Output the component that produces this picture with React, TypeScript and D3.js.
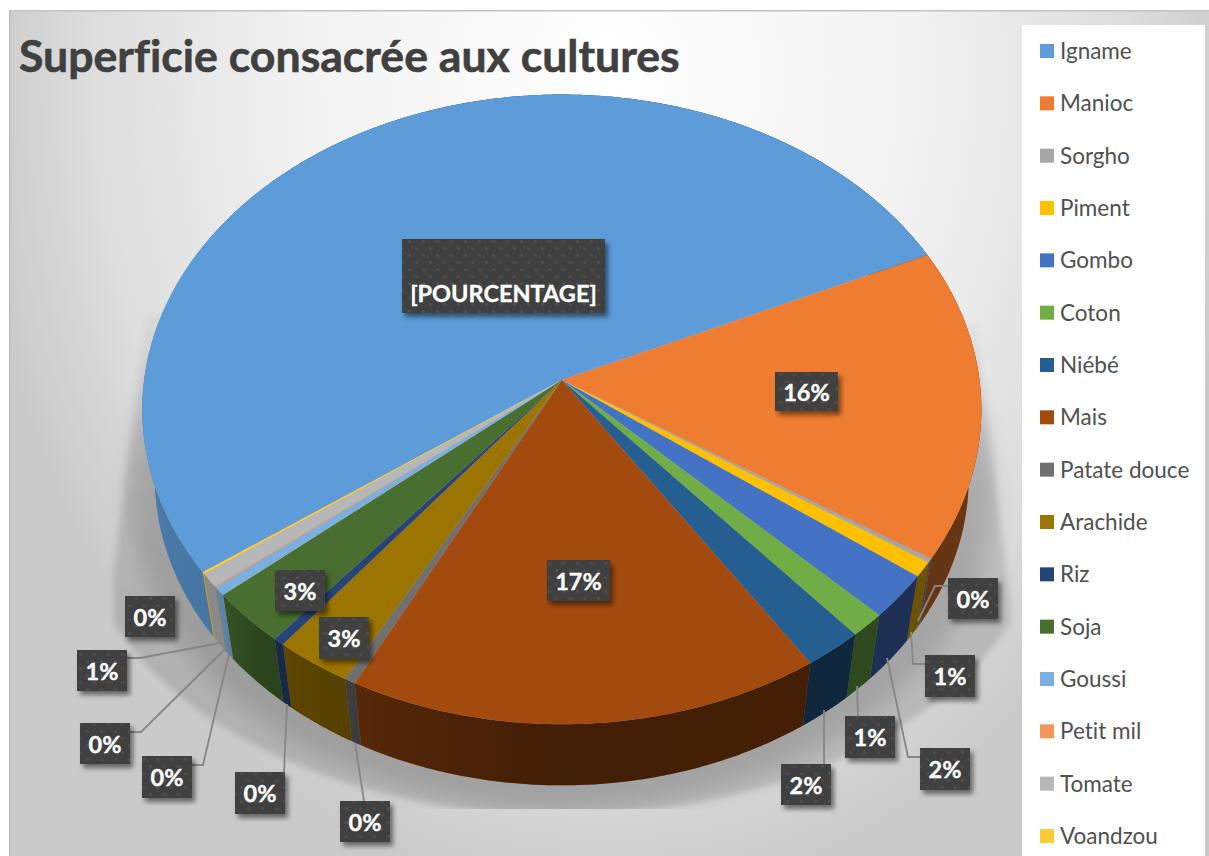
import React from "react";
import * as d3 from "d3";

const categories = ["Igname","Manioc","Sorgho","Piment","Gombo","Coton","Niébé","Mais","Patate douce","Arachide","Riz","Soja","Goussi","Petit mil","Tomate","Voandzou"];
const shares = [53.06,15.97,0.2,0.78,2.3,1.25,2.08,16.75,0.39,2.72,0.39,2.78,0.45,0.05,0.72,0.1];
const colors = ["#5d9cd8","#ef7d31","#a5a5a5","#ffc000","#4472c4","#70ad47","#255e91","#a34b0f","#707070","#9c7500","#264478","#486f30","#7cafdd","#f1975a","#b7b7b7","#ffcd33"];
const title = "Superficie consacrée aux cultures";

// label text, box left, box top, box width, box height, text centre y
const labels: [string, number, number, number, number, number][] = [
  ["[POURCENTAGE]",402,239,203,74,293],
  ["16%",775,372,63,39,392],
  ["17%",547,560,63,41,581],
  ["3%",275,570,50,41,591],
  ["3%",319,617,50,42,638],
  ["0%",125,596,50,41,617],
  ["1%",77,650,50,41,671],
  ["0%",80,723,50,41,744],
  ["0%",142,756,50,42,777],
  ["0%",235,772,50,42,793],
  ["0%",340,801,50,41,822],
  ["0%",948,578,50,41,599],
  ["1%",925,655,50,42,676],
  ["2%",920,748,50,42,769],
  ["1%",845,716,50,42,737],
  ["2%",781,764,50,41,785],
];
const leaders: [number, number][][] = [
  [[127,658],[140,658],[220,643]],
  [[130,732],[141,732],[225,649]],
  [[192,765],[203,765],[229,654]],
  [[284,772],[287,704]],
  [[364,801],[355,743]],
  [[948,586],[935,586],[918,621]],
  [[925,664],[913,664],[911,632]],
  [[920,757],[908,757],[887,658]],
  [[858,716],[857,686]],
  [[824,764],[824,710]],
];

const W = 1209, H = 856;
const cx = 561.8, cy = 380, R = 417.7, S = 312.1, K = 0.0934;
const DEG = Math.PI / 180;

const project = (a: number, sx = 1, sy = 1, dy = 0): [number, number] => {
  const u = Math.sin(a), v = -Math.cos(a), w = 1 - K * v;
  return [cx + sx * R * u / w, cy + sy * S * v / w + dy];
};
const top = (a: number) => project(a);
const bottom = (a: number) => project(a, 0.97, 0.977, 69);
const sample = (a0: number, a1: number) => [...d3.range(a0, a1, 0.4 * DEG), a1];

const line = d3.line();
const startA = -125.6 * DEG;
const slices = d3.pie<number>().sort(null).startAngle(startA).endAngle(startA + 2 * Math.PI)(shares);

const topPath = (s: d3.PieArcDatum<number>) =>
  line([[cx, cy], ...sample(s.startAngle, s.endAngle).map(top)]) + "Z";
const wallPath = (s: d3.PieArcDatum<number>) => {
  const as = sample(s.startAngle, s.endAngle);
  return line([...as.map(top), ...[...as].reverse().map(bottom)]) + "Z";
};
const castPath = () => {
  const arc = sample(118 * DEG, 242 * DEG).map((a) => project(a, 1.16, 1, 91));
  return line([[976, 325], [1010, 600], ...arc, [113, 575], [146, 315]]) + "Z";
};
const nearPath = () => line(sample(0, 2 * Math.PI).map((a) => project(a, 1.03, 1, 84))) + "Z";

const legendY = d3.scalePoint<string>().domain(categories).range([51, 836]);
const font = "Lato, 'Open Sans', sans-serif";

export default function App() {
  return (
    <svg width={W} height={H} viewBox={`0 0 ${W} ${H}`} style={{ position: "absolute", left: 0, top: 0, display: "block", background: "#fff" }}>
      <defs>
        <radialGradient id="bg" gradientUnits="userSpaceOnUse" cx={0} cy={0} r={1} gradientTransform="translate(610 80) scale(640 820)">
          <stop offset="0" stopColor="#ffffff" />
          <stop offset="0.5" stopColor="#f1f1f1" />
          <stop offset="0.8" stopColor="#dedede" />
          <stop offset="1" stopColor="#cacaca" />
        </radialGradient>
        <linearGradient id="shadowFill" gradientUnits="userSpaceOnUse" x1={0} x2={0} y1={310} y2={640}>
          <stop offset="0" stopColor="#000" stopOpacity={0.03} />
          <stop offset="0.5" stopColor="#000" stopOpacity={0.11} />
          <stop offset="1" stopColor="#000" stopOpacity={0.13} />
        </linearGradient>
        <linearGradient id="wallShade" gradientUnits="userSpaceOnUse" x1={142} x2={981} y1={0} y2={0}>
          <stop offset="0" stopColor="#000" stopOpacity={0.22} />
          <stop offset="0.099" stopColor="#000" stopOpacity={0.25} />
          <stop offset="0.14" stopColor="#000" stopOpacity={0.38} />
          <stop offset="0.307" stopColor="#000" stopOpacity={0.5} />
          <stop offset="0.5" stopColor="#000" stopOpacity={0.6} />
          <stop offset="1" stopColor="#000" stopOpacity={0.57} />
        </linearGradient>
        <filter id="soft" x="-10%" y="-10%" width="120%" height="120%">
          <feGaussianBlur stdDeviation="3" />
        </filter>
        <filter id="softer" x="-10%" y="-10%" width="120%" height="120%">
          <feGaussianBlur stdDeviation="11" />
        </filter>
        <filter id="boxShadow" x="-20%" y="-20%" width="150%" height="160%">
          <feDropShadow dx="3" dy="4" stdDeviation="2.5" floodColor="#000" floodOpacity="0.5" />
        </filter>
        <pattern id="dots" patternUnits="userSpaceOnUse" width={14} height={14}>
          <rect width={14} height={14} fill="#404040" />
          <circle cx={3.5} cy={3.5} r={1.6} fill="#4f4f4f" />
          <circle cx={10.5} cy={10.5} r={1.6} fill="#4f4f4f" />
        </pattern>
        <clipPath id="shadowClip"><rect x={0} y={0} width={W} height={809} /></clipPath>
      </defs>

      <rect x={9} y={10} width={W - 9} height={H - 10} fill="url(#bg)" />
      <rect x={9} y={10} width={W - 9} height={1.5} fill="#c2c2c2" />
      <rect x={9} y={10} width={1.5} height={H - 10} fill="#bcbcbc" />

      <g clipPath="url(#shadowClip)">
        <path d={castPath()} fill="url(#shadowFill)" filter="url(#soft)" />
        <path d={nearPath()} fill="#000" fillOpacity={0.14} filter="url(#softer)" />
      </g>

      <rect x={1022} y={25} width={183} height={H - 25} fill="#fff" />
      {categories.map((c, i) => (
        <g key={c}>
          <rect x={1040} y={legendY(c)! - 7} width={14} height={14} fill={colors[i]} />
          <text x={1060} y={legendY(c)! + 8} fontFamily={font} fontSize={22.5} fill="#505050" style={{ fontVariantLigatures: "none" }}>{c}</text>
        </g>
      ))}

      <g>
        {slices.map((s, i) => <path key={i} d={wallPath(s)} fill={colors[i]} />)}
        {slices.map((s, i) => <path key={i} d={wallPath(s)} fill="url(#wallShade)" />)}
      </g>
      <g>
        {slices.map((s, i) => <path key={i} d={topPath(s)} fill={colors[i]} />)}
      </g>

      {leaders.map((pts, i) => (
        <path key={i} d={line(pts)!} fill="none" stroke="#868686" strokeWidth={1.8} />
      ))}

      {labels.map(([t, x, y, w, h, ty], i) => (
        <g key={i}>
          <rect x={x} y={y} width={w} height={h} fill="url(#dots)" filter="url(#boxShadow)" />
          <text x={x + w / 2} y={ty} textAnchor="middle" dominantBaseline="central" fontFamily={font} fontWeight={700} fontSize={23.5} fill="#fff" stroke="#fff" strokeWidth={0.35}>{t}</text>
        </g>
      ))}

      <text x={19} y={72} fontFamily={font} fontWeight={700} fontSize={44.6} fill="#404040" stroke="#404040" strokeWidth={0.6} style={{ fontVariantLigatures: "none" }}>{title}</text>
    </svg>
  );
}
